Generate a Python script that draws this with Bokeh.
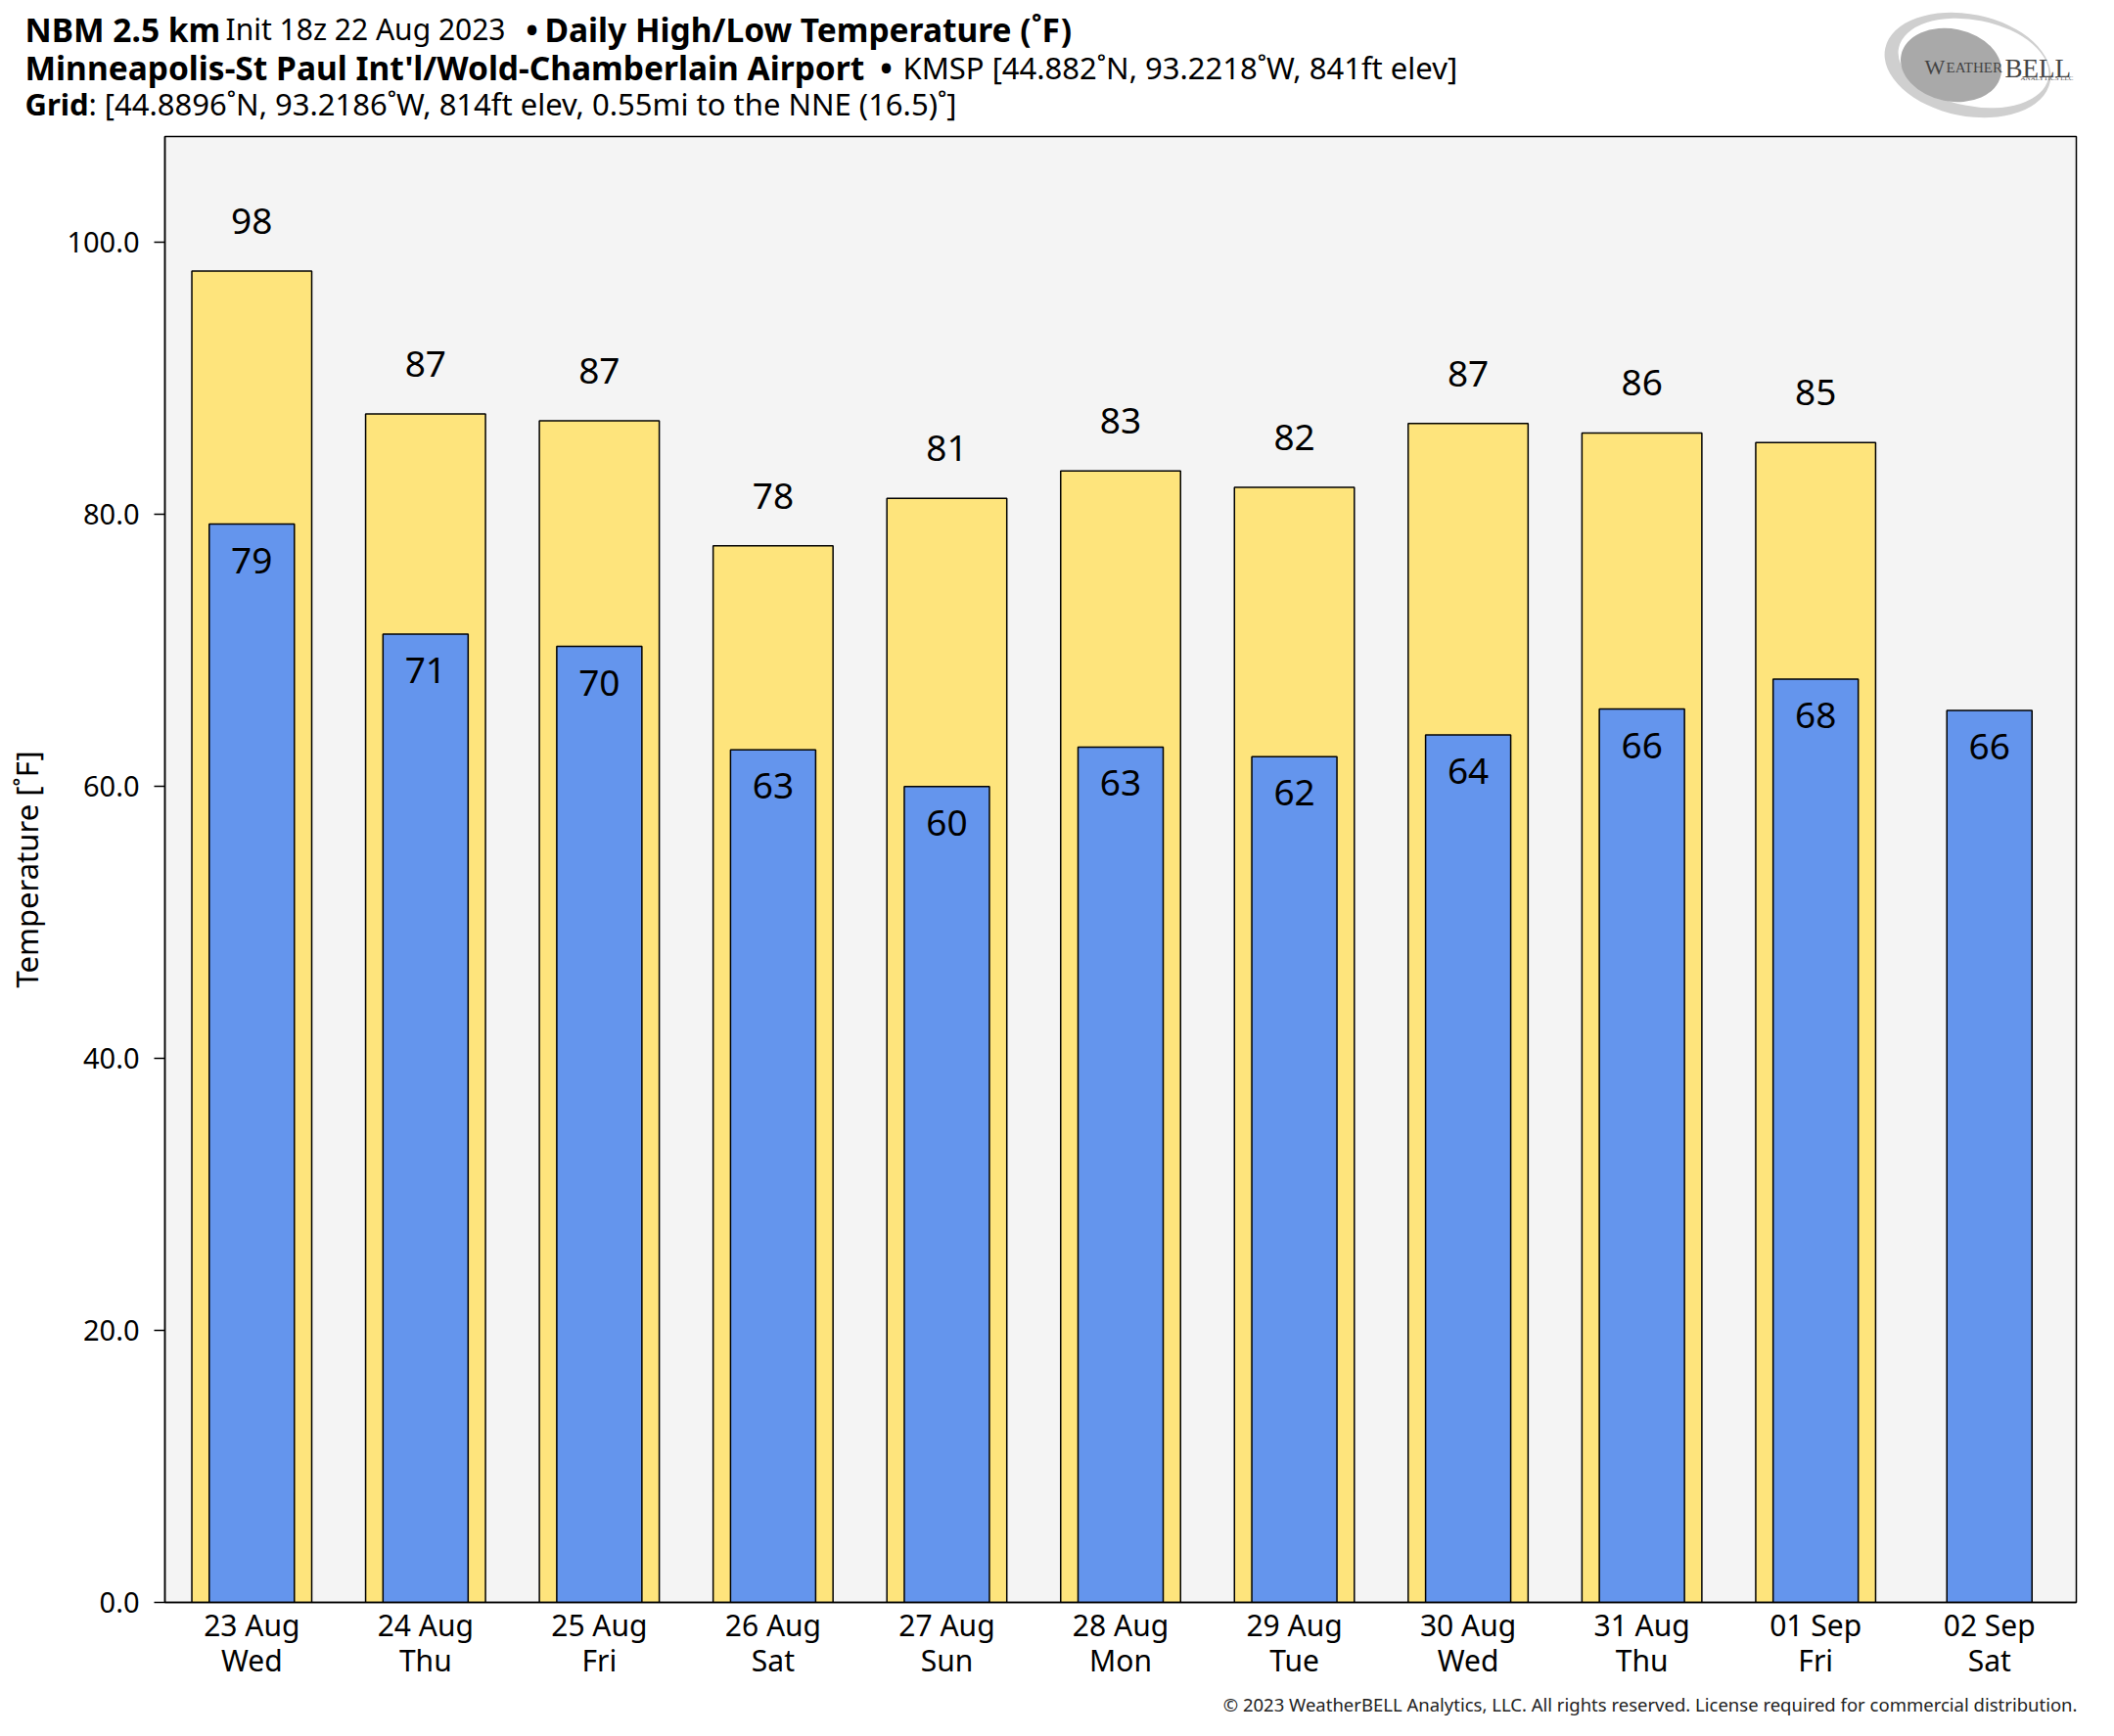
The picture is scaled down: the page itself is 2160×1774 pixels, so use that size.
import numpy as np
from bokeh.plotting import figure
from bokeh.layouts import column
from bokeh.models import (FactorRange, Range1d, FixedTicker, CustomJSTickFormatter,
                          NumeralTickFormatter, ColumnDataSource)
from bokeh.embed import file_html
from bokeh.resources import INLINE
from bokeh.core.properties import value

# ---------------- data ----------------
dates = ["23 Aug", "24 Aug", "25 Aug", "26 Aug", "27 Aug", "28 Aug",
         "29 Aug", "30 Aug", "31 Aug", "01 Sep", "02 Sep"]
weekdays = ["Wed", "Thu", "Fri", "Sat", "Sun", "Mon", "Tue", "Wed", "Thu", "Fri", "Sat"]
high_temps = [97.9, 87.4, 86.9, 77.7, 81.2, 83.2, 82.0, 86.7, 86.0, 85.3]
low_temps = [79.3, 71.2, 70.3, 62.7, 60.0, 62.9, 62.2, 63.8, 65.7, 67.9, 65.6]
y_ticks = [0, 20, 40, 60, 80, 100]

FONT = "Noto Sans"
YELLOW = "#FEE47C"
BLUE = "#6495ED"

W = 2144
# page coordinates
HEAD_Y0, HEAD_Y1 = 0, 137
MAIN_Y0, MAIN_Y1 = 137, 1730
FOOT_Y0, FOOT_Y1 = 1730, 1768
FRAME_L, FRAME_R, FRAME_T, FRAME_B = 168, 2121, 139, 1637


def blank_fig(y0, y1):
    f = figure(width=W, height=y1 - y0, x_range=Range1d(0, W), y_range=Range1d(y1, y0),
               x_axis_type=None, y_axis_type=None, output_backend="svg",
               toolbar_location=None, min_border=0, frame_align=False)
    f.outline_line_color = None
    f.background_fill_color = "white"
    f.border_fill_color = "white"
    f.xgrid.grid_line_color = None
    f.ygrid.grid_line_color = None
    return f


def seg(f, text, x, y, size, bold=False, font=FONT, color="black", align="left"):
    f.text(x=[x], y=[y], text=[text], text_font=value(font), text_font_size=size,
           text_font_style="bold" if bold else "normal", text_color=color,
           text_align=align, text_baseline="alphabetic")


# ---------------- header ----------------
BSZ, NSZ = "33.5px", "31px"
head = blank_fig(HEAD_Y0, HEAD_Y1)
seg(head, "NBM 2.5 km", 25, 29, BSZ, bold=True)
seg(head, "Init 18z 22 Aug 2023", 230, 29, "30px")
seg(head, "•", 543, 29, BSZ, bold=True, align="center")
seg(head, "Daily High/Low Temperature (˚F)", 556, 29, BSZ, bold=True)
seg(head, "Minneapolis-St Paul Int'l/Wold-Chamberlain Airport", 25, 68, BSZ, bold=True)
seg(head, "•", 905, 68, BSZ, bold=True, align="center")
seg(head, "KMSP [44.882˚N, 93.2218˚W, 841ft elev]", 922, 68, NSZ)
seg(head, "Grid", 25, 105, "31px", bold=True)
seg(head, ": [44.8896˚N, 93.2186˚W, 814ft elev, 0.55mi to the NNE (16.5)˚]", 90, 105, NSZ)

# logo (swirl + wordmark)
head.ellipse(x=[2010], y=[66], width=[172], height=[104], angle=[-0.2],
             fill_color="#cfcfcf", line_color=None)
head.ellipse(x=[2016], y=[64], width=[156], height=[88], angle=[-0.2],
             fill_color="white", line_color=None)
head.ellipse(x=[1993], y=[66], width=[104], height=[74], angle=[-0.2],
             fill_color="#a9a9a9", line_color=None)
seg(head, "W", 1966, 68, "22px", font="Liberation Serif", color="#444444")
seg(head, "EATHER", 1988, 68, "15px", font="Liberation Serif", color="#444444")
seg(head, "BELL", 2048, 69, "27px", font="Liberation Serif", color="#444444")
seg(head, "ANALYTICS LLC", 2118, 79, "7px", font="Liberation Serif", color="#555555", align="right")

# ---------------- main chart ----------------
p = figure(width=W, height=MAIN_Y1 - MAIN_Y0,
           x_range=FactorRange(factors=dates, range_padding=0),
           y_range=Range1d(0, 107.8),
           output_backend="svg", toolbar_location=None, frame_align=False,
           min_border_left=FRAME_L, min_border_right=W - FRAME_R,
           min_border_top=FRAME_T - MAIN_Y0, min_border_bottom=MAIN_Y1 - FRAME_B)
p.background_fill_color = "#f4f4f4"
p.border_fill_color = "white"
p.outline_line_color = "black"
p.outline_line_width = 1.5
p.xgrid.grid_line_color = None
p.ygrid.grid_line_color = None

high_src = ColumnDataSource(dict(x=dates[:len(high_temps)], top=high_temps,
                                 label=[str(int(round(v))) for v in high_temps]))
low_src = ColumnDataSource(dict(x=dates, top=low_temps,
                                label=[str(int(round(v))) for v in low_temps]))

p.vbar(x="x", top="top", bottom=0, width=0.69, source=high_src,
       fill_color=YELLOW, line_color="black", line_width=1.5)
p.vbar(x="x", top="top", bottom=0, width=0.49, source=low_src,
       fill_color=BLUE, line_color="black", line_width=1.5)

p.text(x="x", y="top", text="label", source=high_src, y_offset=-51,
       text_align="center", text_baseline="alphabetic",
       text_font=value(FONT), text_font_size="37px", text_color="black")
p.text(x="x", y="top", text="label", source=low_src, y_offset=37,
       text_align="center", text_baseline="alphabetic",
       text_font=value(FONT), text_font_size="37px", text_color="black")

ya = p.yaxis[0]
ya.ticker = FixedTicker(ticks=y_ticks)
ya.formatter = NumeralTickFormatter(format="0.0")
ya.major_tick_out = 11
ya.major_tick_in = 0
ya.minor_tick_line_color = None
ya.major_tick_line_width = 1.5
ya.axis_line_width = 1.5
ya.major_label_standoff = 15
ya.major_label_text_font = FONT
ya.major_label_text_font_size = "29px"
ya.major_label_text_color = "black"
ya.axis_label = "Temperature [˚F]"
ya.axis_label_text_font = FONT
ya.axis_label_text_font_size = "31px"
ya.axis_label_text_font_style = "normal"
ya.axis_label_text_color = "black"
ya.axis_label_standoff = 17

xa = p.xaxis[0]
xa.major_tick_line_color = None
xa.minor_tick_line_color = None
xa.axis_line_width = 1.5
xa.major_label_standoff = -4
xa.major_label_text_font = FONT
xa.major_label_text_font_size = "30px"
xa.major_label_text_color = "black"
xa.major_label_text_line_height = 0.88
xa.formatter = CustomJSTickFormatter(args=dict(d=dates, w=weekdays), code="""
    const i = d.indexOf(tick);
    return i < 0 ? tick : d[i] + "\\n" + w[i];
""")

# ---------------- footer ----------------
foot = blank_fig(FOOT_Y0, FOOT_Y1)
seg(foot, "© 2023 WeatherBELL Analytics, LLC. All rights reserved. "
          "License required for commercial distribution.",
    2122, 1741, "18.5px", color="#222222", align="right")

layout = column(head, p, foot, spacing=0)
open("out.html", "w").write(file_html(layout, INLINE))
